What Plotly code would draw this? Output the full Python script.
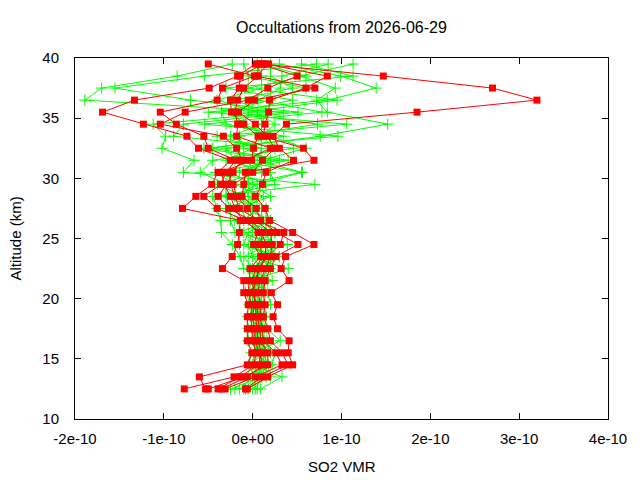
import plotly.graph_objects as go

# Altitude levels (km), top to bottom
ALT = [39.5, 38.5, 37.5, 36.5, 35.5, 34.5, 33.5, 32.5, 31.5, 30.5,
       29.5, 28.5, 27.5, 26.5, 25.5, 24.5, 23.5, 22.5, 21.5, 20.5,
       19.5, 18.5, 17.5, 16.5, 15.5, 14.5, 13.5, 12.5]

UNIT = 1e-10  # values below are in units of 1e-10 VMR

# Red series profiles (square markers)
red_p1 = [0.10, 1.47, 2.70, 3.20, 1.85, 0.38, 0.23, 0.30, 0.46, 0.15, 0.11, 0.03, 0.14, 0.19, 0.45, 0.69, 0.37, 0.32, 0.41, 0.21, 0.28, 0.23, 0.28, 0.41, 0.40, 0.45, 0.17, -0.06]
red_p2 = [0.03, -0.17, -0.49, -1.33, -1.69, -1.23, -0.74, -0.61, -0.25, -0.39, -0.46, -0.64, -0.79, -0.14, -0.15, -0.17, -0.23, -0.34, -0.10, -0.10, -0.05, -0.06, -0.06, -0.06, -0.01, -0.06, -0.60, -0.53]
red_p3 = [-0.50, 0.02, -0.34, -0.40, -1.04, -0.86, -0.55, -0.50, -0.19, -0.30, -0.36, -0.55, -0.40, -0.08, 0.06, 0.01, 0.09, -0.03, -0.04, -0.05, -0.01, -0.02, -0.01, 0.00, 0.04, 0.01, -0.21, -0.77]
red_p4 = [0.15, 0.84, 0.60, 0.19, 0.18, 0.14, 0.12, 0.57, 0.69, -0.08, -0.10, -0.12, 0.04, 0.09, 0.27, 0.51, 0.26, 0.20, 0.14, 0.12, 0.14, 0.12, 0.17, 0.20, 0.33, 0.40, 0.10, -0.08]
red_p5 = [0.08, 0.50, 0.17, -0.05, -0.76, -1.04, -0.33, -0.18, -0.12, -0.22, -0.29, -0.39, -0.27, -0.02, 0.12, 0.08, 0.11, 0.03, 0.00, 0.01, 0.04, 0.03, 0.05, 0.06, 0.10, 0.06, -0.14, -0.39]
red_p6 = [0.18, 0.04, 0.70, 0.02, -0.16, 0.03, 0.16, 0.25, 0.11, 0.00, -0.22, -0.18, -0.06, 0.04, 0.20, 0.22, 0.20, 0.15, 0.08, 0.06, 0.09, 0.08, 0.11, 0.12, 0.26, 0.33, 0.03, -0.31]
red_p7 = [0.12, -0.14, -0.15, -0.25, -0.24, -0.10, 0.06, 0.01, -0.01, -0.35, -0.32, -0.25, -0.20, -0.11, 0.10, 0.15, 0.14, 0.09, 0.02, 0.03, 0.02, 0.00, 0.02, 0.03, 0.07, 0.12, -0.06, -0.35]
red_p8 = [0.06, 0.06, -0.10, -0.17, -0.20, -0.17, -0.18, 0.20, -0.08, -0.26, -0.25, -0.20, -0.15, 0.06, 0.35, 0.31, 0.17, 0.06, 0.05, -0.02, 0.06, 0.05, 0.08, 0.09, 0.17, 0.17, -0.10, -0.50]

# Green series profiles (+ markers)
green_p1 = [-0.23, -0.85, -1.70, -1.89, 0.35, -1.12, -0.98, -1.02, -0.66, -0.78, 0.70, -0.45, -0.40, -0.36, -0.35, -0.23, -0.14, -0.10, 0.12, -0.08, 0.07, -0.06, 0.11, -0.05, 0.14, -0.04, 0.10, -0.25]
green_p2 = [0.72, -0.54, -1.55, -0.70, 0.51, -0.78, -0.89, 0.46, -0.45, -0.59, -0.30, -0.30, -0.25, -0.25, -0.20, 0.39, -0.05, 0.40, -0.03, 0.17, 0.20, -0.02, 0.16, 0.31, 0.02, 0.00, 0.33, 0.09]
green_p3 = [0.85, 0.33, 0.31, 0.06, 0.78, -0.54, 0.96, -0.55, 0.30, -0.42, -0.20, 0.12, -0.10, 0.20, -0.05, -0.10, 0.30, -0.05, 0.22, -0.03, -0.04, 0.15, -0.01, 0.03, 0.25, 0.22, 0.00, -0.15]
green_p4 = [1.13, 0.53, 0.93, 0.72, 0.84, 1.52, 0.76, -0.30, -0.20, 0.56, 0.05, -0.20, 0.05, -0.10, 0.25, 0.00, 0.15, 0.05, 0.07, 0.14, 0.02, 0.06, 0.07, -0.05, 0.10, 0.10, 0.05, -0.10]
green_p5 = [0.30, 0.99, 1.39, 0.84, -0.50, 1.06, -0.40, 0.10, 0.05, 0.55, -0.10, -0.05, 0.15, 0.15, 0.15, 0.20, 0.25, 0.15, 0.12, 0.12, 0.07, 0.10, 0.11, 0.11, 0.14, 0.15, 0.10, -0.05]
green_p6 = [0.55, 1.13, -0.30, 0.45, -0.20, 0.73, -0.15, -0.10, 0.20, -0.15, 0.15, 0.05, -0.30, -0.20, -0.10, 0.20, -0.10, 0.00, 0.17, 0.02, 0.12, 0.15, 0.03, 0.16, 0.20, 0.03, 0.15, 0.00]
green_p7 = [0.05, 0.10, 0.10, -0.40, 0.05, 0.25, 0.10, 0.25, -0.10, 0.10, -0.40, -0.10, 0.00, 0.00, 0.00, -0.05, 0.00, 0.10, 0.00, 0.00, 0.00, 0.00, 0.13, 0.01, 0.04, 0.18, -0.05, -0.20]
green_p8 = [-0.10, -0.05, 0.60, 0.20, -0.35, -0.30, 0.35, -0.45, 0.40, -0.25, 0.00, 0.20, -0.15, -0.05, 0.10, 0.05, 0.10, 0.20, 0.05, 0.05, 0.05, 0.04, 0.05, 0.05, 0.08, 0.08, 0.08, 0.05]
green_p9 = [0.20, 0.20, 0.45, -0.20, 0.15, 0.10, -0.25, 0.00, -0.30, 0.20, 0.25, -0.35, 0.10, 0.10, 0.25, 0.15, 0.20, -0.02, 0.10, 0.10, 0.10, 0.08, 0.09, 0.09, 0.12, 0.12, 0.20, -0.08]
green_p10 = [0.10, 0.60, -0.05, 0.95, -0.05, -0.10, 0.20, 0.60, 0.10, -0.05, -0.05, 0.00, -0.05, 0.20, -0.15, -0.15, 0.30, 0.08, 0.02, -0.08, -0.02, 0.12, -0.05, 0.13, -0.02, -0.04, 0.02, 0.03]

X_TICKS = [-2e-10, -1e-10, 0, 1e-10, 2e-10, 3e-10, 4e-10]
X_TICK_LABELS = ["-2e-10", "-1e-10", "0e+00", "1e-10", "2e-10", "3e-10", "4e-10"]
Y_TICKS = [10, 15, 20, 25, 30, 35, 40]

TITLE = "Occultations from 2026-06-29"
X_LABEL = "SO2 VMR"
Y_LABEL = "Altitude (km)"


def join_profiles(profiles):
    xs, ys = [], []
    for prof in profiles:
        xs.extend(v * UNIT for v in prof)
        ys.extend(ALT)
        xs.append(None)
        ys.append(None)
    return xs, ys


red_x, red_y = join_profiles([red_p1, red_p2, red_p3, red_p4, red_p5, red_p6, red_p7, red_p8])
green_x, green_y = join_profiles([green_p1, green_p2, green_p3, green_p4, green_p5,
                                  green_p6, green_p7, green_p8, green_p9, green_p10])

FONT = "Liberation Sans, Arial, sans-serif"

fig = go.Figure()
fig.add_trace(go.Scatter(
    x=green_x, y=green_y, mode="lines+markers", connectgaps=False,
    line=dict(color="#00ff00", width=1),
    marker=dict(symbol="cross-thin", size=8, color="#00ff00",
                line=dict(width=1, color="#00ff00")),
    showlegend=False, hoverinfo="skip"))
fig.add_trace(go.Scatter(
    x=red_x, y=red_y, mode="lines+markers", connectgaps=False,
    line=dict(color="#ff0000", width=1),
    marker=dict(symbol="square", size=7, color="#ff0000", line=dict(width=0)),
    showlegend=False, hoverinfo="skip"))

fig.update_layout(
    width=640, height=480,
    margin=dict(l=75, r=32, t=58, b=61),
    paper_bgcolor="white", plot_bgcolor="white",
    font=dict(family=FONT, size=15, color="black"),
    title=dict(text=TITLE, x=0.5, xref="paper", xanchor="center", y=1 - 27 / 480,
               yref="container", yanchor="middle",
               font=dict(family=FONT, size=16, color="black")),
    xaxis=dict(range=[-2e-10, 4e-10], tickvals=X_TICKS, ticktext=X_TICK_LABELS,
               showgrid=False, zeroline=False, showline=True, linecolor="black",
               linewidth=1, mirror="ticks", ticks="inside", ticklen=6,
               tickcolor="black", ticklabelstandoff=6),
    yaxis=dict(range=[10, 40], tickvals=Y_TICKS, showgrid=False, zeroline=False,
               showline=True, linecolor="black", linewidth=1, mirror="ticks",
               ticks="inside", ticklen=6, tickcolor="black", ticklabelstandoff=12),
    annotations=[
        dict(text=X_LABEL, xref="paper", yref="paper", x=0.5, y=(419 - 466) / 361,
             xanchor="center", yanchor="middle", showarrow=False,
             font=dict(family=FONT, size=15, color="black")),
        dict(text=Y_LABEL, xref="paper", yref="paper", x=(15 - 75) / 533, y=0.5,
             xanchor="center", yanchor="middle", textangle=-90, showarrow=False,
             font=dict(family=FONT, size=15, color="black")),
    ],
)

fig.write_html("out.html")
